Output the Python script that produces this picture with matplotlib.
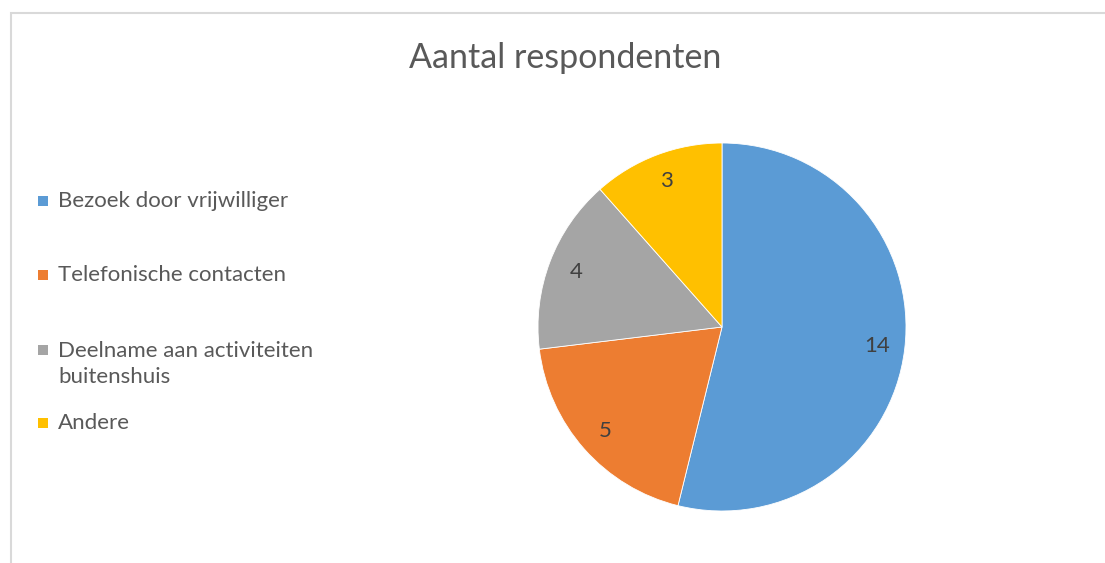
import matplotlib.pyplot as plt
from matplotlib.patches import Rectangle

# --- Data ---
categories = ["Bezoek door vrijwilliger", "Telefonische contacten",
              "Deelname aan activiteiten\nbuitenshuis", "Andere"]
counts = [14, 5, 4, 3]
colors = ["#5B9BD5", "#ED7D31", "#A5A5A5", "#FFC000"]
title = "Aantal respondenten"

W, H = 1105, 563
plt.rcParams['font.family'] = ['Lato', 'DejaVu Sans']
fig = plt.figure(figsize=(W / 100, H / 100), dpi=100)

# chart border (only left and top visible in the crop)
fig.patches.append(Rectangle((11 / W, -0.05), 1.1, 1.05 - 13 / H,
                             transform=fig.transFigure, fill=False,
                             edgecolor="#d9d9d9", linewidth=1.5))

# --- Pie ---
cx, cy, r = 722, 327, 184
ax = fig.add_axes([(cx - r) / W, (H - cy - r) / H, 2 * r / W, 2 * r / H])
wedges, texts, autotexts = ax.pie(
    counts, colors=colors, startangle=90, counterclock=False,
    autopct=lambda p: f"{p * sum(counts) / 100:.0f}", pctdistance=0.85,
    wedgeprops=dict(edgecolor="white", linewidth=0.6),
    textprops=dict(color="#404040", fontsize=16))
ax.set_xlim(-1, 1)
ax.set_ylim(-1, 1)
ax.axis("off")

fig.text(565 / W, 1 - 58 / H, title, ha="center", va="center",
         fontsize=24.5, color="#595959")

# --- Legend ---
marker_y = [201, 275, 350, 423]
text_y = [201, 275, 364, 423]
for lab, col, my, ty in zip(categories, colors, marker_y, text_y):
    fig.patches.append(Rectangle((38 / W, 1 - (my + 5) / H), 10 / W, 10 / H,
                                 transform=fig.transFigure, facecolor=col,
                                 edgecolor="none"))
    fig.text(58 / W, 1 - ty / H, lab, ha="left", va="center",
             fontsize=16, color="#595959", linespacing=1.35)

fig.savefig("out.png", dpi=100, facecolor="white")
